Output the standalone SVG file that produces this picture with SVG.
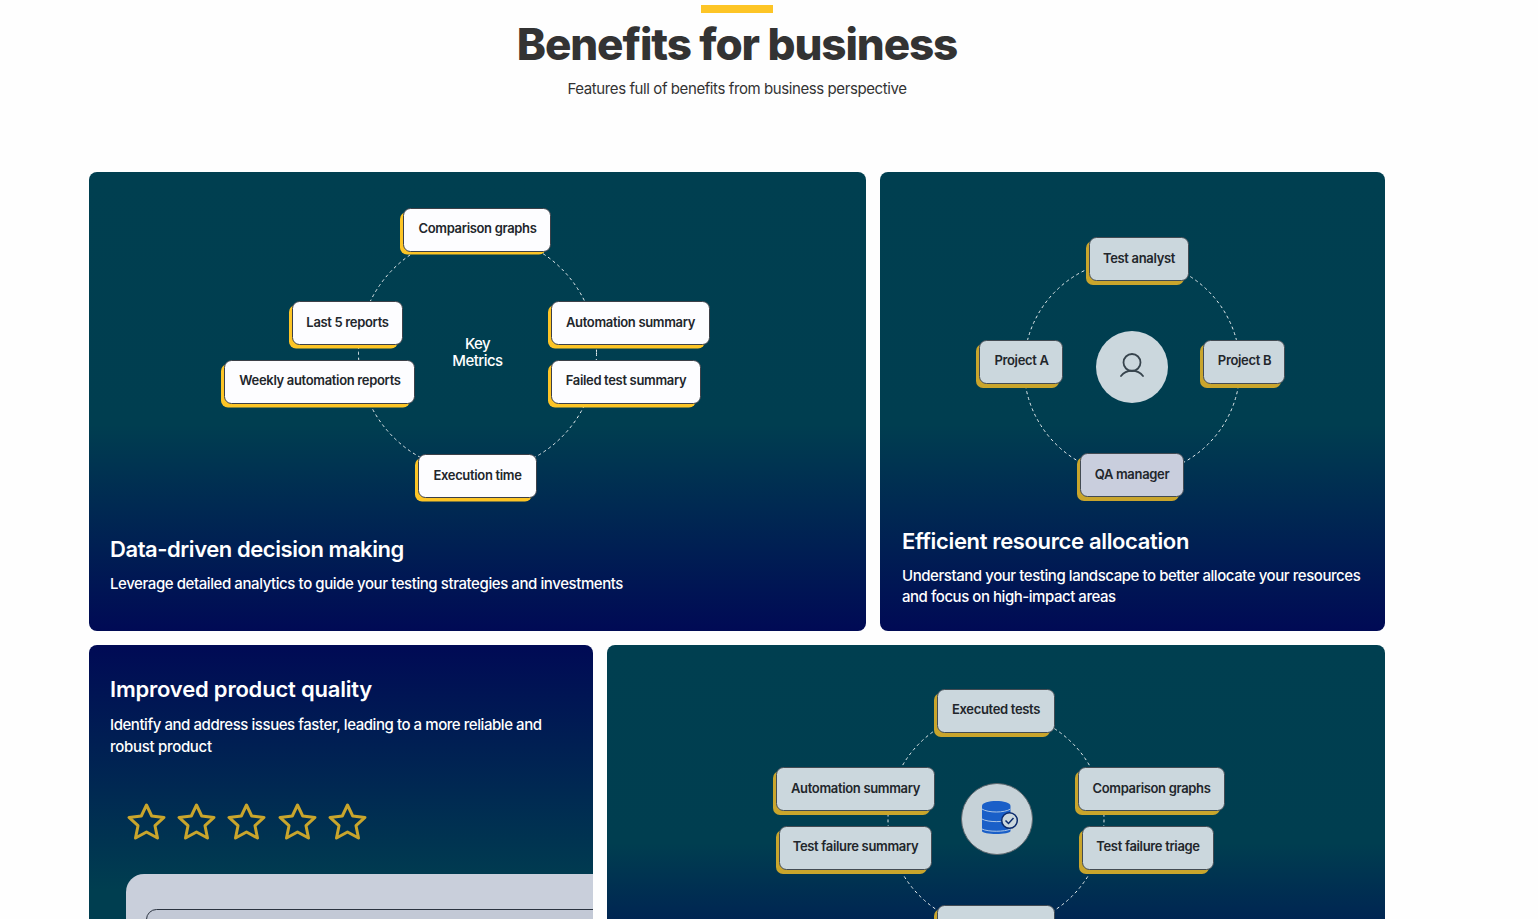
<svg xmlns="http://www.w3.org/2000/svg" width="1538" height="919" viewBox="0 0 1538 919">
<style>
text{font-family:Inter,"Liberation Sans",sans-serif}
.h{font-size:22px;font-weight:600;fill:#fff}
.p{font-size:15px;font-weight:500;fill:#fff}
.l{font-size:13px;font-weight:600;fill:#22262b;text-anchor:middle;letter-spacing:-.33px}
.w{fill:#fdfdff;stroke:#3c4048;stroke-width:1}
.y{fill:#fdc526}
.g{fill:#cbd7dd;stroke:#434b53;stroke-width:1}
.q{fill:#c9cedd;stroke:#434b53;stroke-width:1}
.d{fill:#c9a52c}
.dash{fill:none;stroke:#e8eef0;stroke-width:1;stroke-dasharray:3 3}
.star{fill:none;stroke:#c9a52c;stroke-width:3;stroke-linejoin:round}
</style>
<defs>
<linearGradient id="gd" x1="0" y1="0" x2="0" y2="1"><stop offset="0" stop-color="#003f50"/><stop offset=".55" stop-color="#003e50"/><stop offset="1" stop-color="#000a55"/></linearGradient>
<linearGradient id="g4" gradientUnits="userSpaceOnUse" x1="0" y1="645" x2="0" y2="1005"><stop offset="0" stop-color="#003f50"/><stop offset=".55" stop-color="#003e50"/><stop offset="1" stop-color="#000a55"/></linearGradient>
<linearGradient id="g3" gradientUnits="userSpaceOnUse" x1="0" y1="645" x2="0" y2="890"><stop offset="0" stop-color="#000a55"/><stop offset="1" stop-color="#003e50"/></linearGradient>
<path id="s" d="M0-17 5.200-6 17.500-4.600 8.500 3.700 11 16 0 10 -11 16 -8.500 3.700 -17.500-4.600 -5.200-6Z"/>
</defs>
<rect width="1538" height="919" fill="#fefefe"/>
<g id="header">
<rect x="701" y="5" width="72" height="8" fill="#fdc526"/>
<text x="737" y="60" font-size="44" font-weight="800" fill="#333" text-anchor="middle" letter-spacing="-1.100">Benefits for business</text>
<text x="737" y="94" font-size="15" fill="#333" text-anchor="middle" letter-spacing="-.41">Features full of benefits from business perspective</text>
</g>
<g id="card-data">
<rect x="89" y="172" width="777" height="459" rx="8" fill="url(#gd)"/>
<text class="h" x="110" y="557" letter-spacing="-.44">Data-driven decision making</text>
<text class="p" x="110" y="589" letter-spacing="-.42">Leverage detailed analytics to guide your testing strategies and investments</text>
</g>
<g id="card-resource">
<rect x="880" y="172" width="505" height="459" rx="8" fill="url(#gd)"/>
<text class="h" x="902" y="549" letter-spacing="-.35">Efficient resource allocation</text>
<text class="p" x="902" y="581" letter-spacing="-.44">Understand your testing landscape to better allocate your resources</text>
<text class="p" x="902" y="602" letter-spacing="-.46">and focus on high-impact areas</text>
</g>
<g id="card-quality">
<path d="M89 919V653a8 8 0 0 1 8-8H585a8 8 0 0 1 8 8V919Z" fill="url(#g3)"/>
<text class="h" x="110" y="697" letter-spacing="-.2">Improved product quality</text>
<text class="p" x="110" y="730" letter-spacing="-.44">Identify and address issues faster, leading to a more reliable and</text>
<text class="p" x="110" y="752" letter-spacing="-.3">robust product</text>
<g id="stars">
<use href="#s" x="146.500" y="822" class="star"/><use href="#s" x="196.500" y="822" class="star"/><use href="#s" x="246.500" y="822" class="star"/><use href="#s" x="297.500" y="822" class="star"/><use href="#s" x="347.500" y="822" class="star"/>
</g>
<path d="M126 919V892a18 18 0 0 1 18-18H593V919Z" fill="#c9cfdb"/>
<path d="M146.500 919.500a10 10 0 0 1 10-10H593V919Z" fill="#c3c9d6"/>
<path d="M146.500 919.500a10 10 0 0 1 10-10H593" fill="none" stroke="#2b3340" stroke-width="1"/>
</g>
<g id="card-tests">
<path d="M607 919V653a8 8 0 0 1 8-8H1377a8 8 0 0 1 8 8V919Z" fill="url(#g4)"/>
</g>
<g id="connectors">
<circle class="dash" cx="477.500" cy="353" r="119"/>
<circle class="dash" cx="1132" cy="367.500" r="108"/>
<circle class="dash" cx="996" cy="819.500" r="108"/>
</g>
<g id="n-comparison"><rect class="y" x="400" y="212" width="146" height="42.500" rx="7"/><rect class="w" x="403.500" y="208.500" width="147" height="43" rx="7"/><text class="l" x="477.500" y="233">Comparison graphs</text></g>
<g id="n-last5"><rect class="y" x="289" y="305" width="109" height="43.500" rx="7"/><rect class="w" x="292.500" y="301.500" width="110" height="43" rx="7"/><text class="l" x="347.500" y="327">Last 5 reports</text></g>
<g id="n-auto"><rect class="y" x="548" y="305" width="157" height="43.500" rx="7"/><rect class="w" x="551.500" y="301.500" width="158" height="43" rx="7"/><text class="l" x="630.500" y="327">Automation summary</text></g>
<g id="n-weekly"><rect class="y" x="221" y="364" width="189" height="43.500" rx="7"/><rect class="w" x="224.500" y="360.500" width="190" height="43" rx="7"/><text class="l" x="320" y="385">Weekly automation reports</text></g>
<g id="n-failed"><rect class="y" x="548" y="364" width="148" height="43.500" rx="7"/><rect class="w" x="551.500" y="360.500" width="149" height="43" rx="7"/><text class="l" x="626" y="385">Failed test summary</text></g>
<g id="n-exec"><rect class="y" x="415" y="458" width="117" height="43.500" rx="7"/><rect class="w" x="418.500" y="454.500" width="118" height="43" rx="7"/><text class="l" x="477.500" y="480">Execution time</text></g>
<text x="477.500" y="349" font-size="15" font-weight="500" fill="#fff" text-anchor="middle" letter-spacing="-.55">Key</text>
<text x="477.500" y="366" font-size="15" font-weight="500" fill="#fff" text-anchor="middle" letter-spacing="-.55">Metrics</text>

<g id="n-analyst"><rect class="d" x="1086" y="241" width="98" height="44" rx="7"/><rect class="g" x="1089.500" y="237.500" width="99" height="43" rx="7"/><text class="l" x="1139" y="263">Test analyst</text></g>
<g id="n-proja"><rect class="d" x="976" y="344" width="83" height="44" rx="7"/><rect class="g" x="979.500" y="340.500" width="83" height="43" rx="7"/><text class="l" x="1021.500" y="365">Project A</text></g>
<g id="n-projb"><rect class="d" x="1200" y="344" width="81" height="44" rx="7"/><rect class="g" x="1203.500" y="340.500" width="81" height="43" rx="7"/><text class="l" x="1244.500" y="365">Project B</text></g>
<g id="n-qa"><rect class="d" x="1077" y="457" width="102" height="44" rx="7"/><rect class="q" x="1080.500" y="453.500" width="103" height="43" rx="7"/><text class="l" x="1132" y="479">QA manager</text></g>
<g id="n-person"><circle cx="1132" cy="367" r="36" fill="#cbd7dd"/><circle cx="1132" cy="362.500" r="8.500" fill="none" stroke="#37444d" stroke-width="1.800"/><path d="M1121 376C1126 369 1138 369 1143 376" fill="none" stroke="#37444d" stroke-width="1.800" stroke-linecap="round"/></g>

<g id="n-executed"><rect class="d" x="934" y="693" width="116" height="44" rx="7"/><rect class="g" x="937.500" y="689.500" width="117" height="43" rx="7"/><text class="l" x="996" y="714">Executed tests</text></g>
<g id="n-auto2"><rect class="d" x="773" y="771" width="157" height="44" rx="7"/><rect class="g" x="776.500" y="767.500" width="158" height="43" rx="7"/><text class="l" x="855.500" y="793">Automation summary</text></g>
<g id="n-comp2"><rect class="d" x="1075" y="771" width="145" height="44" rx="7"/><rect class="g" x="1078.500" y="767.500" width="146" height="43" rx="7"/><text class="l" x="1151.500" y="793">Comparison graphs</text></g>
<g id="n-fail2"><rect class="d" x="776" y="830" width="151" height="44" rx="7"/><rect class="g" x="779.500" y="826.500" width="152" height="43" rx="7"/><text class="l" x="855.500" y="851">Test failure summary</text></g>
<g id="n-triage"><rect class="d" x="1079" y="830" width="130" height="44" rx="7"/><rect class="g" x="1082.500" y="826.500" width="131" height="43" rx="7"/><text class="l" x="1148" y="851">Test failure triage</text></g>
<g id="n-bottom"><rect class="d" x="934" y="909" width="116" height="20" rx="7"/><rect class="g" x="937.500" y="905.500" width="117" height="30" rx="7"/></g>
<g id="n-db">
<circle cx="997" cy="819" r="35.500" fill="#c6d2d8" stroke="#5c666d" stroke-width="1"/>
<path d="M982 806c0-6.700 28.500-6.700 28.500 0V831c0 4-28.500 4-28.500 0Z" fill="#1a5fc8"/>
<path d="M982 809c6 4 22.500 4 28.500 0M982 819c6 3.500 22.500 3.500 28.500 0M982 829c6 3 22.500 3 28.500 0" fill="none" stroke="#a9c4e6" stroke-width="1"/>
<circle cx="1009.500" cy="820.500" r="7.800" fill="#cbd7dd" stroke="#0b2a6c" stroke-width="1.500"/>
<path d="M1005.500 820.500l3 3 5-5.500" fill="none" stroke="#0b2a6c" stroke-width="1.500"/>
</g>
</svg>
